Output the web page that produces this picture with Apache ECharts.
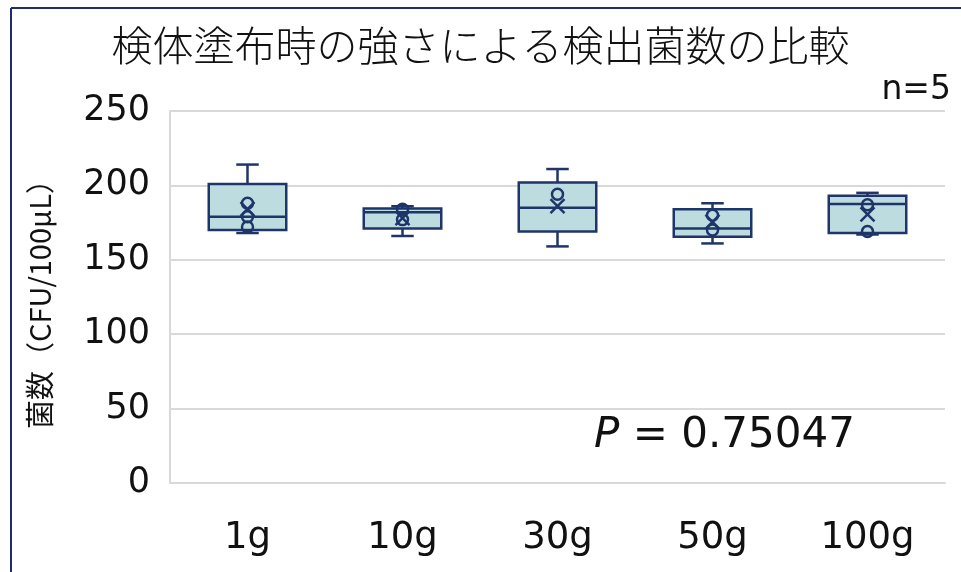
<!DOCTYPE html>
<html>
<head>
<meta charset="utf-8">
<script src="https://cdn.jsdelivr.net/npm/echarts@6/dist/echarts.min.js"></script>
<style>
html,body{margin:0;padding:0;background:#fff;}
#c{width:961px;height:572px;}
</style>
</head>
<body>
<div id="c"></div>
<script>
const categories = ['1g', '10g', '30g', '50g', '100g'];
const whiskerLow = [168, 166, 159, 161, 167];
const q1 = [170, 171, 169, 165.5, 168];
const median = [179, 182, 185, 171, 187.5];
const q3 = [201, 184.5, 202, 184, 193];
const whiskerHigh = [214, 186, 211, 188, 195];
const means = [184, 178, 186, 175.5, 180.5];
const innerPoints = [[188, 179, 172], [184, 177], [194], [180, 170], [187, 169]];
const yTicks = [0, 50, 100, 150, 200, 250];

const NAVY = '#1f3469';
const FILL = '#bddcdf';
const LW = 2.5;

const boxData = categories.map((c, i) => [i, whiskerLow[i], q1[i], median[i], q3[i], whiskerHigh[i], means[i]]);
const pointData = [];
innerPoints.forEach((arr, i) => arr.forEach(v => pointData.push([i, v])));

const chart = echarts.init(document.getElementById('c'), null, {renderer: 'canvas'});

function renderBox(params, api) {
  const x = api.value(0);
  const band = api.size([1, 0])[0];
  const boxW = band * 0.5;
  const capW = band * 0.145;
  const pLow = api.coord([x, api.value(1)]);
  const pQ1 = api.coord([x, api.value(2)]);
  const pMed = api.coord([x, api.value(3)]);
  const pQ3 = api.coord([x, api.value(4)]);
  const pHigh = api.coord([x, api.value(5)]);
  const pMean = api.coord([x, api.value(6)]);
  const cx = pMed[0];
  const st = {stroke: NAVY, lineWidth: LW, fill: null};
  const m = 7;
  return {
    type: 'group',
    children: [
      {type: 'line', shape: {x1: cx, y1: pHigh[1], x2: cx, y2: pQ3[1]}, style: st},
      {type: 'line', shape: {x1: cx - capW / 2, y1: pHigh[1], x2: cx + capW / 2, y2: pHigh[1]}, style: st},
      {type: 'line', shape: {x1: cx, y1: pQ1[1], x2: cx, y2: pLow[1]}, style: st},
      {type: 'line', shape: {x1: cx - capW / 2, y1: pLow[1], x2: cx + capW / 2, y2: pLow[1]}, style: st},
      {type: 'rect', shape: {x: cx - boxW / 2, y: pQ3[1], width: boxW, height: pQ1[1] - pQ3[1]},
        style: {fill: FILL, stroke: NAVY, lineWidth: LW}},
      {type: 'line', shape: {x1: cx - boxW / 2, y1: pMed[1], x2: cx + boxW / 2, y2: pMed[1]}, style: st},
      {type: 'line', shape: {x1: cx - m, y1: pMean[1] - m, x2: cx + m, y2: pMean[1] + m}, style: st, z2: 10},
      {type: 'line', shape: {x1: cx - m, y1: pMean[1] + m, x2: cx + m, y2: pMean[1] - m}, style: st, z2: 10}
    ]
  };
}

const option = {
  animation: false,
  backgroundColor: '#ffffff',
  title: {
    text: '検体塗布時の強さによる検出菌数の比較',
    left: 'center',
    top: 20,
    textStyle: {fontFamily: 'Noto Sans CJK JP', fontSize: 41, fontWeight: 300, color: '#111'}
  },
  grid: {left: 170, right: 16, top: 111, bottom: 89, containLabel: false},
  xAxis: {
    type: 'category',
    data: categories,
    boundaryGap: true,
    axisLine: {show: true, lineStyle: {color: '#d9d9d9', width: 2}},
    axisTick: {show: false},
    axisLabel: {margin: 37, fontFamily: 'DejaVu Sans', fontSize: 37, color: '#111'},
    splitLine: {show: false}
  },
  yAxis: {
    type: 'value',
    min: yTicks[0],
    max: yTicks[yTicks.length - 1],
    interval: 50,
    name: '菌数（CFU/100μL）',
    nameLocation: 'middle',
    nameRotate: 90,
    nameGap: 116,
    nameTextStyle: {fontFamily: 'Noto Sans CJK JP', fontSize: 29, color: '#111'},
    axisLine: {show: true, lineStyle: {color: '#d9d9d9', width: 2}},
    axisTick: {show: false},
    axisLabel: {margin: 20, fontFamily: 'DejaVu Sans', fontSize: 35, color: '#111'},
    splitLine: {show: true, lineStyle: {color: '#d9d9d9', width: 2}}
  },
  graphic: [
    {type: 'line', shape: {x1: 11, y1: 8, x2: 961, y2: 8}, style: {stroke: '#1f2d6e', lineWidth: 2}},
    {type: 'line', shape: {x1: 11, y1: 8, x2: 11, y2: 572}, style: {stroke: '#1f2d6e', lineWidth: 2}},
    {type: 'text', right: 10, top: 74,
      style: {text: 'n=5', font: '33px "DejaVu Sans"', fill: '#111'}},
    {type: 'text', left: 594, top: 415,
      style: {text: '{i|P} = 0.75047', fill: '#111', font: '42px "DejaVu Sans"',
        rich: {i: {fontStyle: 'italic', fontFamily: 'DejaVu Sans', fontSize: 42, fill: '#111'}}}}
  ],
  series: [
    {
      type: 'custom',
      renderItem: renderBox,
      data: boxData,
      encode: {x: 0, y: [1, 2, 3, 4, 5, 6]},
      z: 2
    },
    {
      type: 'scatter',
      data: pointData,
      symbol: 'circle',
      symbolSize: 11,
      itemStyle: {color: 'rgba(0,0,0,0)', borderColor: NAVY, borderWidth: LW, opacity: 1},
      z: 3
    }
  ]
};
chart.setOption(option);
</script>
</body>
</html>
